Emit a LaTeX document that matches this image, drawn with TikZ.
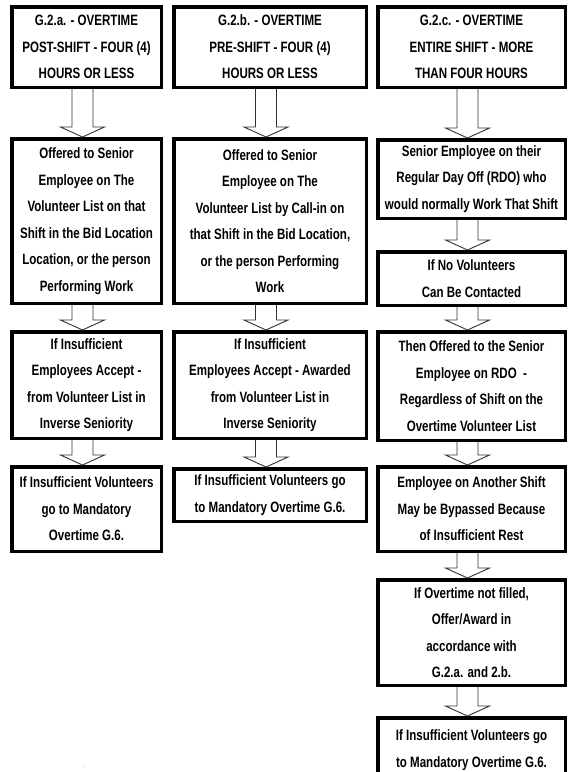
\documentclass[tikz,border=0pt]{standalone}
\usepackage{fontspec}
\setmainfont{Liberation Sans}[FakeStretch=0.77]
\usepackage{tikz}
\usetikzlibrary{calc,positioning}

% hollow block arrow from the bottom of one box to the top of the next
\newcommand{\otarrow}[2]{%
  \draw[otarr] let \p1=([xshift=-4pt]#1.south), \p2=(#2.north) in
    (\x1-10.5pt,\y1) -- (\x1-10.5pt,\y2+10pt) -- (\x1-22pt,\y2+10pt) --
    (\x1,\y2) -- (\x1+22pt,\y2+10pt) -- (\x1+10.5pt,\y2+10pt) -- (\x1+10.5pt,\y1);
}

\tikzset{
  otbox/.style={draw, line width=3.5pt, align=center, inner sep=0pt,
    font=\fontsize{15}{26.5}\selectfont\bfseries},
  otarr/.style={draw=black!80, fill=white, line width=0.9pt}
}

\begin{document}
\begin{tikzpicture}[x=1pt, y=-1pt]
  \useasboundingbox (0,0) rectangle (568,772);
  \clip (0,0) rectangle (568,772);

  % headers
  \node[otbox, minimum width=149.5, minimum height=80.5] (h1) at (86.5,47)
    {G.2.a. - OVERTIME\\POST-SHIFT - FOUR (4)\\HOURS OR LESS};
  \node[otbox, minimum width=192.5, minimum height=80.5] (h2) at (270,47)
    {G.2.b. - OVERTIME\\PRE-SHIFT - FOUR (4)\\HOURS OR LESS};
  \node[otbox, minimum width=187.5, minimum height=80.5] (h3) at (471.5,47)
    {G.2.c. - OVERTIME\\ENTIRE SHIFT - MORE\\THAN FOUR HOURS};

  % column G.2.a.
  \node[otbox, minimum width=149.5, minimum height=164.5] (a2) at (86.5,221)
    {Offered to Senior\\Employee on The\\Volunteer List on that\\Shift in the Bid Location\\Location, or the person\\Performing Work};
  \node[otbox, minimum width=149.5, minimum height=106.5] (a3) at (86.5,385)
    {If Insufficient\\Employees Accept -\\from Volunteer List in\\Inverse Seniority};
  \node[otbox, minimum width=149.5, minimum height=84.5] (a4) at (86.5,509)
    {If Insufficient Volunteers\\go to Mandatory\\Overtime G.6.};

  % column G.2.b.
  \node[otbox, minimum width=192.5, minimum height=164.5] (b2) at (270,221)
    {Offered to Senior\\Employee on The\\Volunteer List by Call-in on\\that Shift in the Bid Location,\\or the person Performing\\Work};
  \node[otbox, minimum width=192.5, minimum height=106.5] (b3) at (270,385)
    {If Insufficient\\Employees Accept - Awarded\\from Volunteer List in\\Inverse Seniority};
  \node[otbox, minimum width=192.5, minimum height=52.5] (b4) at (270,495)
    {If Insufficient Volunteers go\\to Mandatory Overtime G.6.};

  % column G.2.c.
  \node[otbox, minimum width=187.5, minimum height=78.5] (c2) at (471.5,179)
    {Senior Employee on their\\Regular Day Off (RDO) who\\would normally Work That Shift};
  \node[otbox, minimum width=187.5, minimum height=53.5] (c3) at (471.5,278.5)
    {If No Volunteers\\Can Be Contacted};
  \node[otbox, minimum width=187.5, minimum height=108.5] (c4) at (471.5,386)
    {Then Offered to the Senior\\Employee on RDO\ \ -\\Regardless of Shift on the\\Overtime Volunteer List};
  \node[otbox, minimum width=187.5, minimum height=84.5] (c5) at (471.5,509)
    {Employee on Another Shift\\May be Bypassed Because\\of Insufficient Rest};
  \node[otbox, minimum width=187.5, minimum height=105.5] (c6) at (471.5,632.5)
    {If Overtime not filled,\\Offer/Award in\\accordance with\\G.2.a. and 2.b.};
  \node[otbox, minimum width=187.5, minimum height=64.5] (c7) at (471.5,750)
    {If Insufficient Volunteers go\\to Mandatory Overtime G.6.};

  \node[font=\tiny] (dot) at (85,767) {.};

  % arrows
  \otarrow{h1}{a2}
  \otarrow{a2}{a3}
  \otarrow{a3}{a4}
  \otarrow{h2}{b2}
  \otarrow{b2}{b3}
  \otarrow{b3}{b4}
  \otarrow{h3}{c2}
  \otarrow{c2}{c3}
  \otarrow{c3}{c4}
  \otarrow{c4}{c5}
  \otarrow{c5}{c6}
  \otarrow{c6}{c7}
\end{tikzpicture}
\end{document}
